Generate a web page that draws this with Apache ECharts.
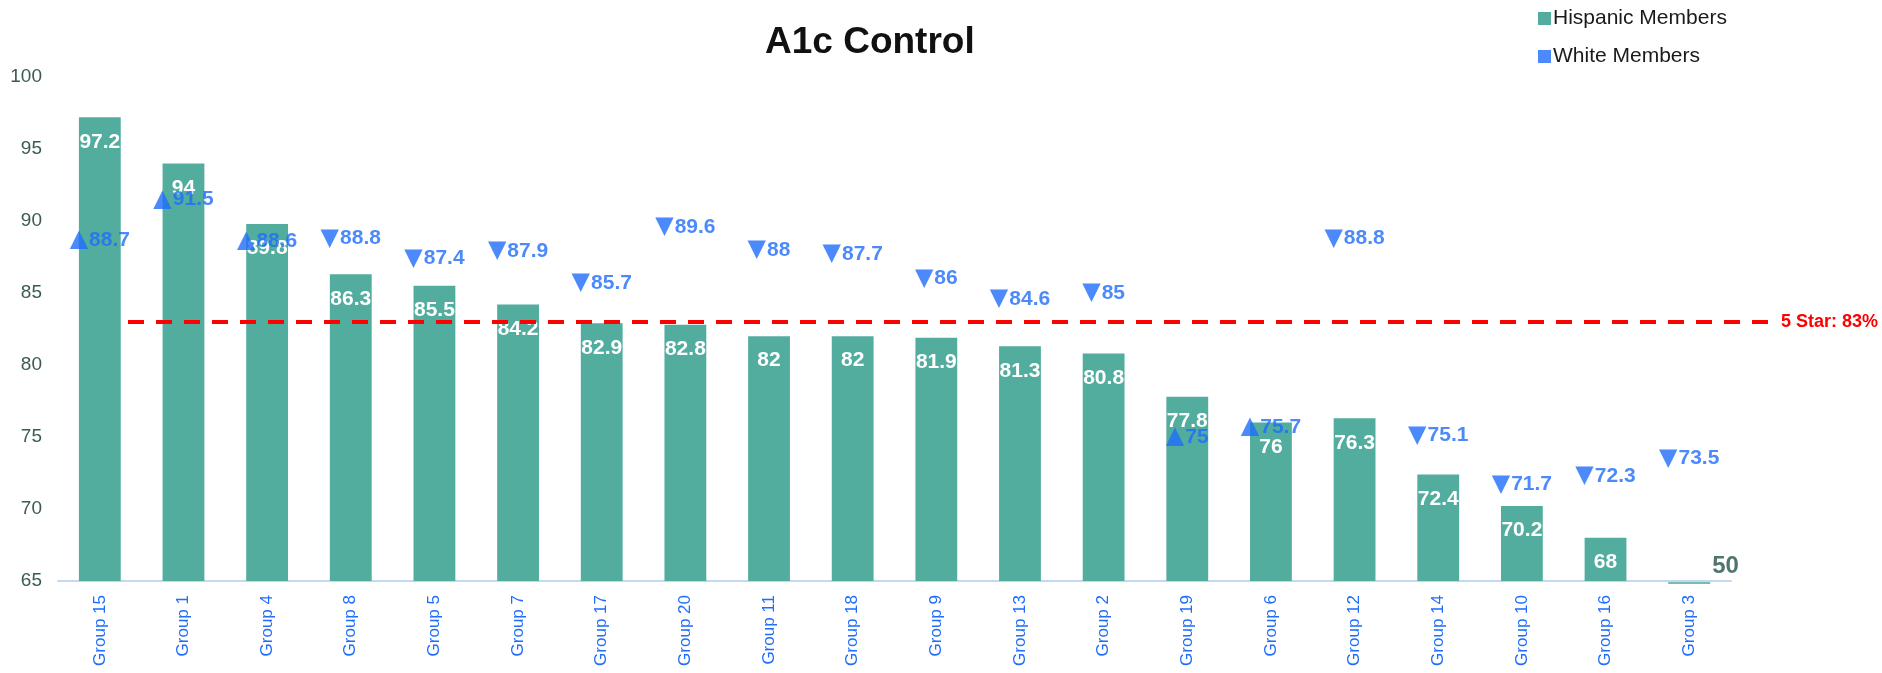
<!DOCTYPE html>
<html>
<head>
<meta charset="utf-8">
<script src="https://cdn.jsdelivr.net/npm/echarts@6/dist/echarts.min.js"></script>
<style>html,body{margin:0;padding:0;background:#fff}#c{width:1882px;height:673px}</style>
</head>
<body>
<div id="c"></div>
<script>
const categories = ['Group 15','Group 1','Group 4','Group 8','Group 5','Group 7','Group 17','Group 20','Group 11','Group 18','Group 9','Group 13','Group 2','Group 19','Group 6','Group 12','Group 14','Group 10','Group 16','Group 3'];
const hispanicValues = [97.2,94,89.8,86.3,85.5,84.2,82.9,82.8,82,82,81.9,81.3,80.8,77.8,76,76.3,72.4,70.2,68,50];
const whiteValues = [88.7,91.5,88.6,88.8,87.4,87.9,85.7,89.6,88,87.7,86,84.6,85,75,75.7,88.8,75.1,71.7,72.3,73.5];
const fiveStarTarget = 83;
const yTicks = {min:65, max:100, interval:5};

const FONT = '"Liberation Sans", Arial, sans-serif';
const TEAL = '#52ad9f';
const BLUE = '#1f6dfb';
const AXIS_MIN = yTicks.min;

// Hispanic values below the axis minimum: bar is clipped away, so mark them at the axis floor
const belowMin = hispanicValues.map(v => v < AXIS_MIN ? AXIS_MIN : '-');

const chart = echarts.init(document.getElementById('c'), null, {renderer: 'canvas'});
chart.setOption({
  animation: false,
  textStyle: {fontFamily: FONT},
  title: {
    text: 'A1c Control', left: 760, top: 19,
    textStyle: {fontSize: 37, fontWeight: 'bold', color: '#111', fontFamily: FONT}
  },
  legend: {
    orient: 'vertical', left: 1533, top: 3, itemGap: 17,
    itemWidth: 13, itemHeight: 13, icon: 'rect',
    textStyle: {fontSize: 21, color: '#1a1a1a', fontFamily: FONT, padding: [0,0,0,-3]},
    data: ['Hispanic Members', 'White Members']
  },
  grid: {left: 58, right: 151, top: 77, bottom: 92, containLabel: false},
  xAxis: {
    type: 'category', data: categories,
    axisLine: {lineStyle: {color: '#c5d8f2', width: 2}},
    axisTick: {show: false},
    axisLabel: {rotate: 90, color: BLUE, fontSize: 17, margin: 14, fontFamily: FONT}
  },
  yAxis: {
    type: 'value', min: yTicks.min, max: yTicks.max, interval: yTicks.interval,
    axisLine: {show: false}, axisTick: {show: false},
    splitLine: {show: false},
    axisLabel: {color: '#3a5c53', fontSize: 19, margin: 16, fontFamily: FONT}
  },
  series: [
    {
      name: 'Hispanic Members', type: 'bar', data: hispanicValues, barWidth: '50%',
      itemStyle: {color: TEAL},
      label: {show: true, position: 'insideTop', distance: 14, color: '#fff', fontWeight: 'bold', fontSize: 21, fontFamily: FONT},
      markLine: {
        silent: true, symbol: ['none','none'],
        lineStyle: {color: '#ff0000', type: [16, 12], width: 4},
        label: {show: true, position: 'end', formatter: '5 Star: ' + fiveStarTarget + '%', color: '#ff0000', fontWeight: 'bold', fontSize: 18, distance: 4, fontFamily: FONT},
        data: [[{x: 128, yAxis: fiveStarTarget}, {x: 1777, yAxis: fiveStarTarget}]]
      },
      z: 2
    },
    {
      name: 'Hispanic below axis', type: 'scatter', data: belowMin,
      symbol: 'rect', symbolSize: [42, 2], symbolOffset: [0, 2],
      itemStyle: {color: TEAL},
      label: {
        show: true, position: 'right', distance: 4, offset: [-2, -17],
        color: '#24524a', fontWeight: 'bold', fontSize: 24, fontFamily: FONT,
        formatter: p => String(hispanicValues[p.dataIndex])
      },
      z: 3
    },
    {
      name: 'White Members', type: 'scatter', data: whiteValues,
      symbolSize: 0, itemStyle: {color: BLUE},
      label: {
        show: true, position: 'inside', color: BLUE, fontWeight: 'bold', fontSize: 21, fontFamily: FONT,
        formatter: p => '{t|' + (hispanicValues[p.dataIndex] > p.value ? '▲' : '▼') + '}' + p.value,
        rich: {t: {fontSize: 24, color: BLUE, fontFamily: '"DejaVu Sans", sans-serif', padding: [0, 1, 0, 0]}}
      },
      z: 5
    }
  ]
});
</script>
</body>
</html>
